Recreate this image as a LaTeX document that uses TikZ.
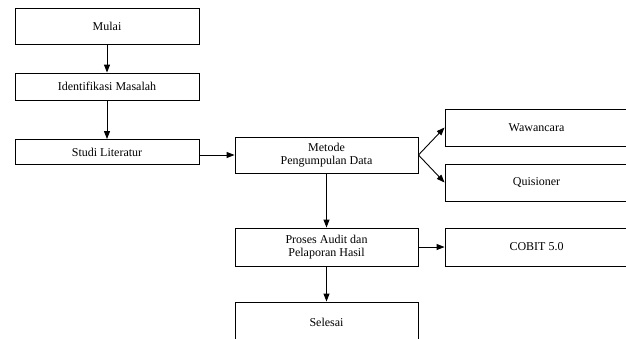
\documentclass[tikz,border=0pt]{standalone}
\usepackage{fontspec}
\setmainfont{Liberation Serif}
\usetikzlibrary{arrows.meta}
\begin{document}
\begin{tikzpicture}[x=1pt,y=-1pt,
  box/.style={draw, line width=0.9pt, inner sep=0pt, align=center, minimum width=183pt,
    font=\fontsize{12}{13.5}\selectfont},
  arr/.style={-{Triangle[length=8pt,width=6pt]}, line width=0.9pt}]
\useasboundingbox (0,0) rectangle (626,338);
\clip (0,0) rectangle (626,338);
\node[box, minimum width=184pt, minimum height=36pt] (mulai) at (107,26) {Mulai};
\node[box, minimum width=184pt, minimum height=27pt] (ident) at (107,86.5) {Identifikasi Masalah};
\node[box, minimum width=184pt, minimum height=25pt] (studi) at (107,152) {Studi Literatur};
\node[box, minimum height=36pt] (metode) at (326.5,155) {Metode\\Pengumpulan Data};
\node[box, minimum height=37pt] (waw) at (536.5,127.5) {Wawancara};
\node[box, minimum height=37pt] (quis) at (536.5,182.5) {Quisioner};
\node[box, minimum height=38pt] (proses) at (326.5,247) {Proses Audit dan\\Pelaporan Hasil};
\node[box, minimum height=38pt] (cobit) at (536.5,247) {COBIT 5.0};
\node[box, minimum height=40pt] (selesai) at (326.5,322) {Selesai};
\draw[arr] (mulai) -- (ident);
\draw[arr] (ident) -- (studi);
\draw[arr] (studi.east |- metode.west) -- (metode.west);
\draw[arr] (metode.east) -- (waw.west);
\draw[arr] (metode.east) -- (quis.west);
\draw[arr] (metode) -- (proses);
\draw[arr] (proses.east) -- (cobit.west);
\draw[arr] (proses) -- (selesai);
\end{tikzpicture}
\end{document}
